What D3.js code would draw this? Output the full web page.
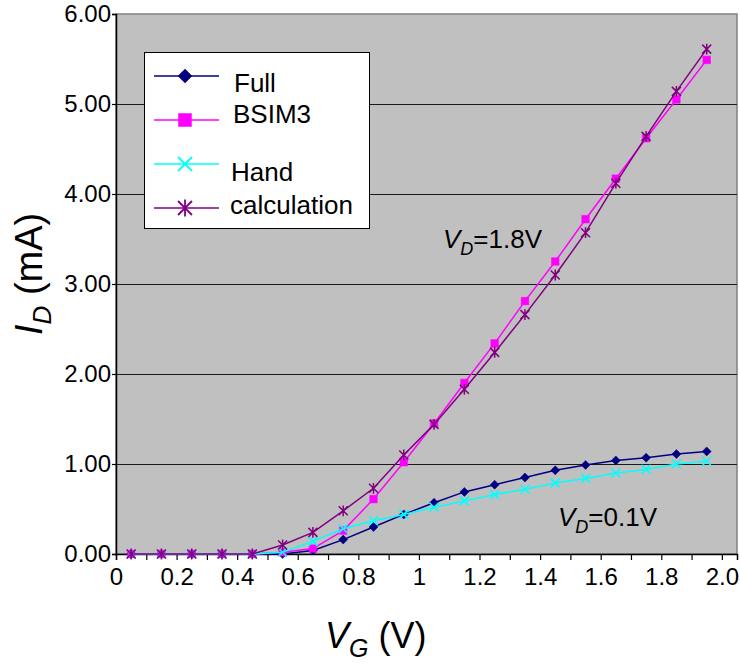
<!DOCTYPE html>
<html>
<head>
<meta charset="utf-8">
<script src="https://cdn.jsdelivr.net/npm/d3@7"></script>
<style>
  body { margin: 0; background: #fff; }
  svg { display: block; font-family: Arial, "Liberation Sans", sans-serif; }
</style>
</head>
<body>
<div id="chart"></div>
<script>
// gate voltage for each sample
var vg = [0.05, 0.15, 0.25, 0.35, 0.45, 0.55, 0.65, 0.75, 0.85, 0.95,
          1.05, 1.15, 1.25, 1.35, 1.45, 1.55, 1.65, 1.75, 1.85, 1.95];

// drain current in mA
var full  = [0, 0, 0, 0, 0, 0.00, 0.04, 0.16, 0.30, 0.44, 0.57, 0.69, 0.77, 0.85, 0.93, 0.99, 1.04, 1.07, 1.11, 1.14];
var bsim3 = [0, 0, 0, 0, 0, 0.02, 0.06, 0.26, 0.61, 1.02, 1.45, 1.90, 2.34, 2.81, 3.25, 3.72, 4.17, 4.62, 5.05, 5.49];
var hand  = [0, 0, 0, 0, 0, 0.02, 0.14, 0.28, 0.37, 0.44, 0.52, 0.59, 0.66, 0.72, 0.79, 0.84, 0.90, 0.94, 1.00, 1.03];
var calc  = [0, 0, 0, 0, 0, 0.10, 0.24, 0.48, 0.73, 1.10, 1.44, 1.83, 2.24, 2.66, 3.10, 3.57, 4.12, 4.64, 5.14, 5.61];

var seriesNames = ["Full", "BSIM3", "Hand", "calculation"];

var xTicks = [0, 0.1, 0.2, 0.3, 0.4, 0.5, 0.6, 0.7, 0.8, 0.9, 1.0,
              1.1, 1.2, 1.3, 1.4, 1.5, 1.6, 1.7, 1.8, 1.9, 2.0];
var xTickLabels = ["0", "0.2", "0.4", "0.6", "0.8", "1", "1.2", "1.4", "1.6", "1.8", "2.0"];
var yTicks = [0, 1, 2, 3, 4, 5, 6];

var series = [
    {name: seriesNames[0], values: full,  color: "#000080", marker: "diamond"},
    {name: seriesNames[1], values: bsim3, color: "#ff00ff", marker: "square"},
    {name: seriesNames[2], values: hand,  color: "#00ffff", marker: "cross"},
    {name: seriesNames[3], values: calc,  color: "#800080", marker: "star"}
];

var W = 740, H = 663;
var margin = {top: 14, right: 3, bottom: 109, left: 116};
var width = W - margin.left - margin.right,
    height = H - margin.top - margin.bottom;

var svg = d3.select("#chart").append("svg")
    .attr("width", W)
    .attr("height", H);

var g = svg.append("g")
    .attr("transform", "translate(" + margin.left + "," + margin.top + ")");

var x = d3.scaleLinear().domain([0, 2.05]).range([0, width]);
var y = d3.scaleLinear().domain([0, 6]).range([height, 0]);

// plot area
g.append("rect")
    .attr("width", width)
    .attr("height", height)
    .attr("fill", "#c0c0c0")
    .attr("stroke", "#808080")
    .attr("stroke-width", 1.5);

// horizontal gridlines
g.selectAll(".grid")
    .data(yTicks.slice(1, -1))
    .enter().append("line")
    .attr("x1", 0).attr("x2", width)
    .attr("y1", function (d) { return y(d) + 0.5; })
    .attr("y2", function (d) { return y(d) + 0.5; })
    .attr("stroke", "#1a1a1a")
    .attr("stroke-width", 1);

// axes
var xAxis = d3.axisBottom(x)
    .tickValues(xTicks)
    .tickSize(6)
    .tickFormat(function (d, i) { return i % 2 === 0 ? xTickLabels[i / 2] : ""; });

var gx = g.append("g")
    .attr("transform", "translate(0," + height + ")")
    .call(xAxis);
gx.select(".domain").attr("stroke", "#000").attr("stroke-width", 1.5);
gx.selectAll(".tick line").attr("stroke", "#000").attr("stroke-width", 1.2);
gx.selectAll(".tick text")
    .attr("y", 14)
    .style("font-size", "24px")
    .style("font-family", "Arial, 'Liberation Sans', sans-serif")
    .attr("fill", "#000");

var yAxis = d3.axisLeft(y)
    .tickValues(yTicks)
    .tickSize(4)
    .tickFormat(d3.format(".2f"));

var gy = g.append("g").call(yAxis);
gy.select(".domain").attr("stroke", "#000").attr("stroke-width", 1.5);
gy.selectAll(".tick line").attr("stroke", "#000").attr("stroke-width", 1.2);
gy.selectAll(".tick text")
    .attr("x", -5)
    .style("font-size", "24px")
    .style("font-family", "Arial, 'Liberation Sans', sans-serif")
    .attr("fill", "#000");

// marker shapes, r = half size
function markerPath(type, r) {
    if (type === "diamond") {
        return "M0," + (-r) + "L" + r + ",0L0," + r + "L" + (-r) + ",0Z";
    }
    if (type === "square") {
        return "M" + (-r) + "," + (-r) + "H" + r + "V" + r + "H" + (-r) + "Z";
    }
    if (type === "cross") {
        return "M" + (-r) + "," + (-r) + "L" + r + "," + r + "M" + (-r) + "," + r + "L" + r + "," + (-r);
    }
    // star: cross plus vertical bar
    return "M" + (-r) + "," + (-r) + "L" + r + "," + r + "M" + (-r) + "," + r + "L" + r + "," + (-r) +
        "M0," + (-r * 1.2) + "V" + (r * 1.2);
}
function isFilled(type) { return type === "diamond" || type === "square"; }

var line = d3.line()
    .x(function (d, i) { return x(vg[i]); })
    .y(function (d) { return y(d); });

series.forEach(function (s) {
    g.append("path")
        .datum(s.values)
        .attr("fill", "none")
        .attr("stroke", s.color)
        .attr("stroke-width", 1.5)
        .attr("d", line);

    g.selectAll(".m-" + s.marker)
        .data(s.values)
        .enter().append("path")
        .attr("class", "m-" + s.marker)
        .attr("transform", function (d, i) { return "translate(" + x(vg[i]) + "," + y(d) + ")"; })
        .attr("d", markerPath(s.marker, s.marker === "square" ? 3.8 : 4.5))
        .attr("fill", isFilled(s.marker) ? s.color : "none")
        .attr("stroke", s.color)
        .attr("stroke-width", isFilled(s.marker) ? 0.5 : 1.5);
});

// annotations
function annot(xp, yp, val) {
    var t = svg.append("text")
        .attr("x", xp).attr("y", yp)
        .style("font-size", "26px")
        .attr("fill", "#000");
    t.append("tspan").style("font-style", "italic").text("V");
    t.append("tspan").style("font-style", "italic").style("font-size", "18px").attr("dy", 7).text("D");
    t.append("tspan").attr("dy", -7).text("=" + val);
}
annot(443, 248, "1.8V");
annot(558, 526, "0.1V");

// axis titles
var xt = svg.append("text")
    .attr("x", 325).attr("y", 648)
    .style("font-size", "36px")
    .attr("fill", "#000");
xt.append("tspan").style("font-style", "italic").text("V");
xt.append("tspan").style("font-style", "italic").style("font-size", "25px").attr("dy", 9).text("G");
xt.append("tspan").attr("dy", -9).text(" (V)");

var yt = svg.append("text")
    .attr("transform", "translate(42,335) rotate(-90)")
    .style("font-size", "38px")
    .attr("fill", "#000");
yt.append("tspan").style("font-style", "italic").text("I");
yt.append("tspan").style("font-style", "italic").style("font-size", "26px").attr("dy", 9).text("D");
yt.append("tspan").attr("dy", -9).text(" (mA)");

// legend
var legend = svg.append("g");
legend.append("rect")
    .attr("x", 144.5).attr("y", 52.5)
    .attr("width", 225).attr("height", 176)
    .attr("fill", "#fff")
    .attr("stroke", "#000")
    .attr("stroke-width", 1);

var rowY = [76, 120, 164, 208];
var textY = [92, 123, 181, 214];
var textX = [234, 233, 231, 230];
series.forEach(function (s, i) {
    legend.append("line")
        .attr("x1", 154).attr("x2", 219)
        .attr("y1", rowY[i]).attr("y2", rowY[i])
        .attr("stroke", s.color)
        .attr("stroke-width", 1.5);
    legend.append("path")
        .attr("transform", "translate(185," + rowY[i] + ")")
        .attr("d", markerPath(s.marker, s.marker === "square" ? 6.5 : 7))
        .attr("fill", isFilled(s.marker) ? s.color : "none")
        .attr("stroke", s.color)
        .attr("stroke-width", isFilled(s.marker) ? 0.5 : 1.8);
    legend.append("text")
        .attr("x", textX[i]).attr("y", textY[i])
        .style("font-size", "26px")
        .attr("fill", "#000")
        .text(s.name);
});
</script>
</body>
</html>
